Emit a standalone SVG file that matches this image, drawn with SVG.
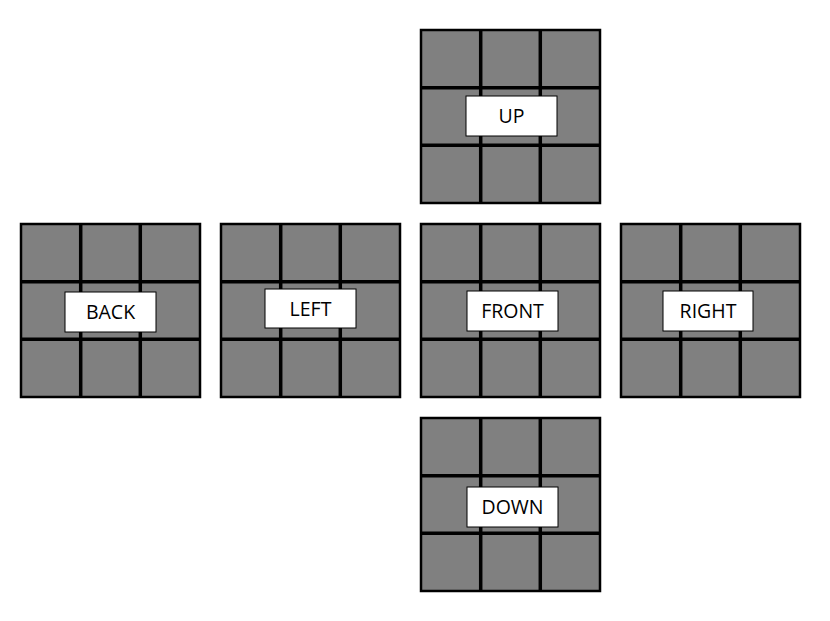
<svg xmlns="http://www.w3.org/2000/svg" width="830" height="621" viewBox="0 0 830 621">
  <style>
    .face { fill: #808080; stroke: #000; stroke-width: 2.5; }
    .grid { stroke: #000; stroke-width: 3.5; fill: none; }
    .lbl { fill: #fff; stroke: #000; stroke-width: 1; }
    .txt { font-family: "Open Sans", "DejaVu Sans", sans-serif; font-size: 19.5px; fill: #000; text-anchor: middle; }
  </style>
  <defs>
    <g id="cube">
      <rect class="face" x="0" y="0" width="179" height="173"/>
      <path class="grid" d="M59.7,0V173M119.3,0V173M0,57.7H179M0,115.3H179"/>
    </g>
  </defs>
  <rect width="830" height="621" fill="#fff"/>
  <g id="up">
    <use href="#cube" x="421" y="30"/>
    <rect class="lbl" x="466" y="96" width="91" height="40"/>
    <text class="txt" x="511.5" y="123">UP</text>
  </g>
  <g id="back">
    <use href="#cube" x="21" y="224"/>
    <rect class="lbl" x="65" y="292" width="91" height="40"/>
    <text class="txt" x="110.5" y="319">BACK</text>
  </g>
  <g id="left">
    <use href="#cube" x="221" y="224"/>
    <rect class="lbl" x="265" y="289" width="91" height="39"/>
    <text class="txt" x="310.5" y="315.5">LEFT</text>
  </g>
  <g id="front">
    <use href="#cube" x="421" y="224"/>
    <rect class="lbl" x="467" y="291" width="91" height="40"/>
    <text class="txt" x="512.5" y="318">FRONT</text>
  </g>
  <g id="right">
    <use href="#cube" x="621" y="224"/>
    <rect class="lbl" x="663" y="291" width="90" height="40"/>
    <text class="txt" x="708" y="318">RIGHT</text>
  </g>
  <g id="down">
    <use href="#cube" x="421" y="418"/>
    <rect class="lbl" x="467" y="487" width="91" height="40"/>
    <text class="txt" x="512.5" y="514">DOWN</text>
  </g>
  <g id="connectors"/>
</svg>
